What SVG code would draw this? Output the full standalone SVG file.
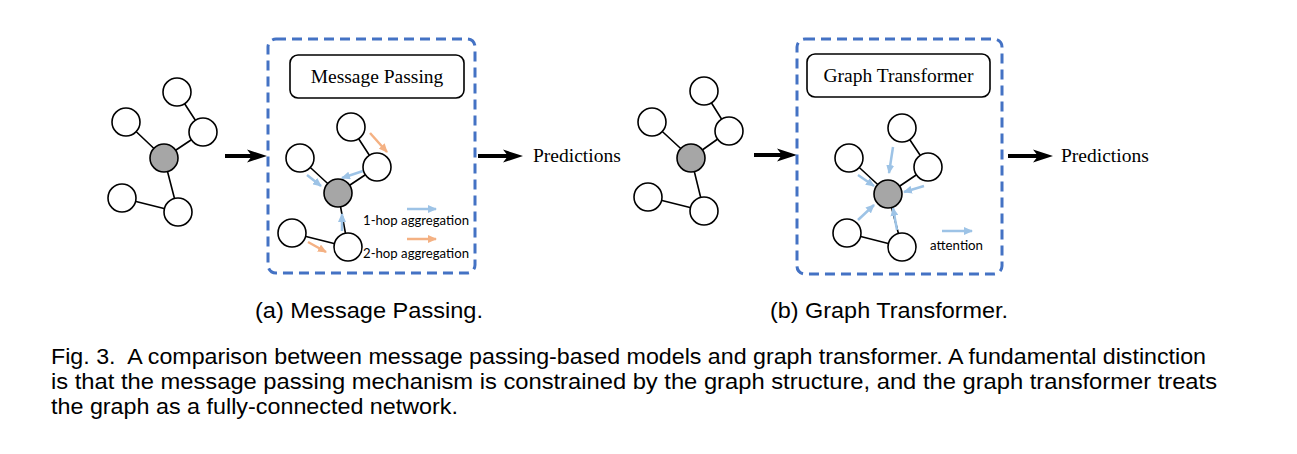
<svg xmlns="http://www.w3.org/2000/svg" width="1297" height="454" viewBox="0 0 1297 454">
<style>
.node{fill:#fff;stroke:#000;stroke-width:1.6}
.hub{fill:#a6a6a6;stroke:#000;stroke-width:1.6}
.edge{stroke:#000;stroke-width:1.6;fill:none}
.panel{fill:none;stroke:#4472c4;stroke-width:3;stroke-dasharray:10 6}
.lbl{fill:#fff;stroke:#000;stroke-width:1.6}
.serif{font-family:"Liberation Serif","Times New Roman",serif;font-size:19.5px;fill:#000}
.small{font-family:Lato,"Open Sans",sans-serif;font-size:13px;fill:#000}
.cap{font-family:"Liberation Sans",Arial,sans-serif;fill:#000}
.blue{stroke:#9dc3e6;stroke-width:2.5;fill:none;marker-end:url(#mb)}
.orange{stroke:#f4b183;stroke-width:2.5;fill:none;marker-end:url(#mo)}
.big{fill:#000}
</style>
<defs>
<marker id="mb" markerUnits="userSpaceOnUse" markerWidth="9" markerHeight="8" refX="8" refY="4" orient="auto"><path d="M0,0 L9,4 L0,8 z" fill="#9dc3e6"/></marker>
<marker id="mo" markerUnits="userSpaceOnUse" markerWidth="9" markerHeight="8" refX="8" refY="4" orient="auto"><path d="M0,0 L9,4 L0,8 z" fill="#f4b183"/></marker>
</defs>
<rect width="1297" height="454" fill="#fff"/>

<g id="connectors">
<path class="edge" d="M177,92 L203,132 M126,122 L164,158 M203,132 L164,158 M164,158 L178,212 M122,198 L178,212"/>
<path class="edge" d="M351,127 L377,167 M300,158 L338,193 M377,167 L338,193 M338,193 L348,247 M292,233 L348,247"/>
<path class="edge" d="M704,91 L729,131 M652,122 L691,158 M729,131 L691,158 M691,158 L704,211 M648,197 L704,211"/>
<path class="edge" d="M902,128 L928,167 M849,158 L888,194 M928,167 L888,194 M888,194 L902,247 M847,233 L902,247"/>
<line class="orange" x1="370" y1="133" x2="387" y2="152"/>
<line class="blue" x1="363" y1="171" x2="342" y2="178"/>
<line class="blue" x1="307" y1="175" x2="321" y2="186"/>
<line class="blue" x1="342" y1="231" x2="342" y2="214"/>
<line class="orange" x1="308" y1="242" x2="326" y2="252"/>
<line class="blue" x1="407" y1="209" x2="436" y2="209"/>
<line class="orange" x1="407" y1="239" x2="436" y2="239"/>
<line class="blue" x1="893" y1="147" x2="889" y2="173"/>
<line class="blue" x1="924" y1="186" x2="904" y2="192"/>
<line class="blue" x1="858" y1="175" x2="874" y2="186"/>
<line class="blue" x1="858" y1="220" x2="874" y2="205"/>
<line class="blue" x1="897" y1="230" x2="893" y2="208"/>
<line class="blue" x1="942" y1="231" x2="972" y2="231"/>
<g class="big">
<rect x="225" y="154" width="28" height="4"/><path d="M267,156 L247,149.5 L252,156 L247,162.5 z"/>
<rect x="478" y="154" width="30" height="4"/><path d="M523,156 L503,149.5 L508,156 L503,162.5 z"/>
<rect x="754" y="153" width="29" height="4"/><path d="M797,155 L777,148.5 L782,155 L777,161.5 z"/>
<rect x="1008" y="154" width="30" height="4"/><path d="M1053,156 L1033,149.5 L1038,156 L1033,162.5 z"/>
</g>
</g>

<g id="inputA">
<circle class="node" cx="177" cy="92" r="14"/>
<circle class="node" cx="126" cy="122" r="14"/>
<circle class="node" cx="203" cy="132" r="14"/>
<circle class="hub" cx="164" cy="158" r="14"/>
<circle class="node" cx="122" cy="198" r="14"/>
<circle class="node" cx="178" cy="212" r="14"/>
</g>

<g id="panelA">
<rect class="panel" x="268" y="39" width="207" height="234" rx="8"/>
<rect class="lbl" x="290" y="55" width="174" height="43" rx="8"/>
<text class="serif" x="377" y="83" text-anchor="middle">Message Passing</text>
<circle class="node" cx="351" cy="127" r="14"/>
<circle class="node" cx="300" cy="158" r="14"/>
<circle class="node" cx="377" cy="167" r="14"/>
<circle class="hub" cx="338" cy="193" r="14"/>
<circle class="node" cx="292" cy="233" r="14"/>
<circle class="node" cx="348" cy="247" r="14"/>
<text class="small" x="363" y="225" textLength="106" lengthAdjust="spacingAndGlyphs">1-hop aggregation</text>
<text class="small" x="363" y="258" textLength="106" lengthAdjust="spacingAndGlyphs">2-hop aggregation</text>
</g>

<g id="predA">
<text class="serif" x="533" y="162">Predictions</text>
</g>

<g id="inputB">
<circle class="node" cx="704" cy="91" r="14"/>
<circle class="node" cx="652" cy="122" r="14"/>
<circle class="node" cx="729" cy="131" r="14"/>
<circle class="hub" cx="691" cy="158" r="14"/>
<circle class="node" cx="648" cy="197" r="14"/>
<circle class="node" cx="704" cy="211" r="14"/>
</g>

<g id="panelB">
<rect class="panel" x="797" y="39" width="205" height="235" rx="8"/>
<rect class="lbl" x="807" y="54" width="183" height="43" rx="8"/>
<text class="serif" x="898.5" y="82" text-anchor="middle">Graph Transformer</text>
<circle class="node" cx="902" cy="128" r="14"/>
<circle class="node" cx="849" cy="158" r="14"/>
<circle class="node" cx="928" cy="167" r="14"/>
<circle class="hub" cx="888" cy="194" r="14"/>
<circle class="node" cx="847" cy="233" r="14"/>
<circle class="node" cx="902" cy="247" r="14"/>
<text class="small" x="930" y="250" textLength="53" lengthAdjust="spacingAndGlyphs">attention</text>
</g>

<g id="predB">
<text class="serif" x="1061" y="162">Predictions</text>
</g>

<g id="captions">
<text class="cap" x="255" y="318" font-size="22" textLength="228" lengthAdjust="spacingAndGlyphs">(a) Message Passing.</text>
<text class="cap" x="770" y="318" font-size="22" textLength="238" lengthAdjust="spacingAndGlyphs">(b) Graph Transformer.</text>
<text class="cap" x="51" y="364" font-size="22" textLength="1155" lengthAdjust="spacingAndGlyphs" xml:space="preserve">Fig. 3.  A comparison between message passing-based models and graph transformer. A fundamental distinction</text>
<text class="cap" x="51" y="389" font-size="22" textLength="1166" lengthAdjust="spacingAndGlyphs">is that the message passing mechanism is constrained by the graph structure, and the graph transformer treats</text>
<text class="cap" x="51" y="414" font-size="22" textLength="407" lengthAdjust="spacingAndGlyphs">the graph as a fully-connected network.</text>
</g>
</svg>
